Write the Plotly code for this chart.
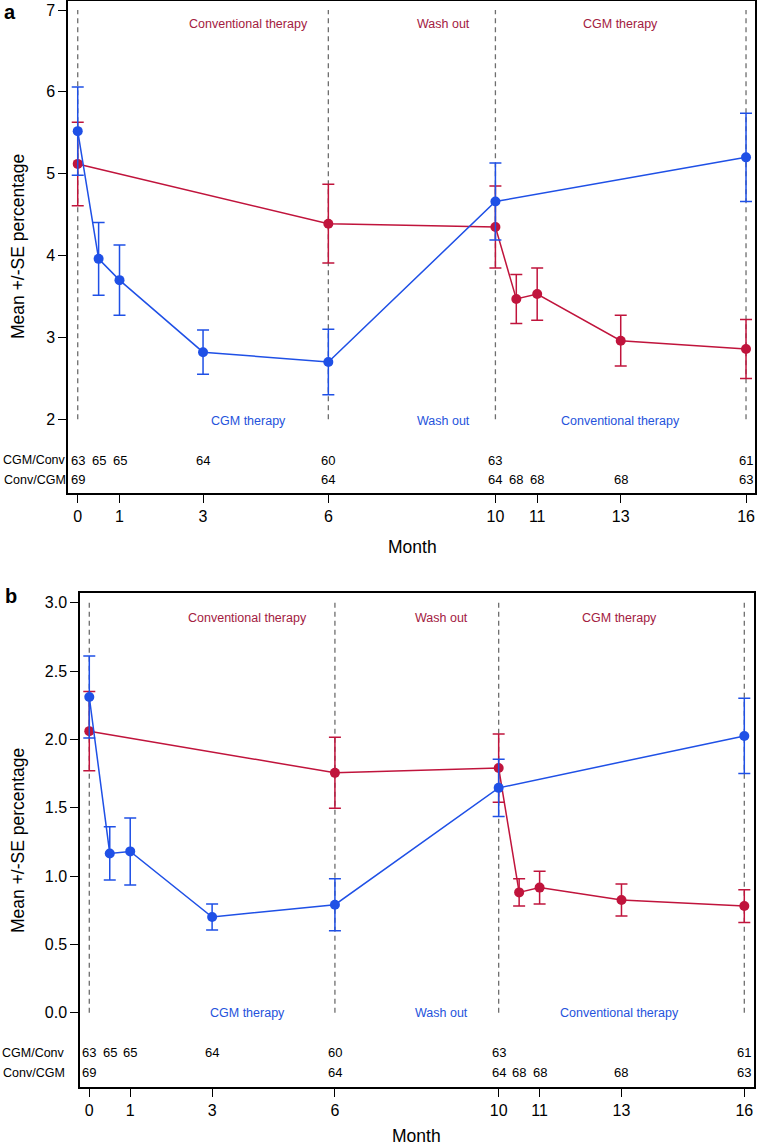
import plotly.graph_objects as go

# ---------------- data ----------------
months_cgm_conv = [0, 0.5, 1, 3, 6, 10, 16]
months_conv_cgm = [0, 6, 10, 10.5, 11, 13, 16]

# panel a
a_cgm_mean = [5.52, 3.96, 3.70, 2.82, 2.70, 4.66, 5.20]
a_cgm_se = [0.54, 0.445, 0.43, 0.27, 0.40, 0.47, 0.54]
a_conv_mean = [5.12, 4.39, 4.35, 3.47, 3.53, 2.96, 2.86]
a_conv_se = [0.51, 0.48, 0.50, 0.30, 0.32, 0.31, 0.36]

# panel b
b_cgm_mean = [2.31, 1.165, 1.18, 0.70, 0.79, 1.645, 2.025]
b_cgm_se = [0.30, 0.195, 0.245, 0.095, 0.19, 0.21, 0.275]
b_conv_mean = [2.06, 1.755, 1.79, 0.88, 0.915, 0.825, 0.78]
b_conv_se = [0.29, 0.26, 0.25, 0.10, 0.12, 0.117, 0.12]

# numbers of patients
n_cgm_conv = [63, 65, 65, 64, 60, 63, 61]
n_conv_cgm = [69, 64, 64, 68, 68, 68, 63]
group_labels = ["CGM/Conv", "Conv/CGM"]

phase_bounds = [0, 6, 10, 16]
phases_conv_cgm = ["Conventional therapy", "Wash out", "CGM therapy"]
phases_cgm_conv = ["CGM therapy", "Wash out", "Conventional therapy"]

x_ticks = [0, 1, 3, 6, 10, 11, 13, 16]
a_y_ticks = [2, 3, 4, 5, 6, 7]
b_y_ticks = [0.0, 0.5, 1.0, 1.5, 2.0, 2.5, 3.0]

# ---------------- style ----------------
BLUE = "#1f50e6"
RED = "#c0143c"
BLUE_TXT = "#2553dc"
RED_TXT = "#a3203f"
FONT = "Liberation Sans, Arial, sans-serif"
W, H = 757, 1145

fig = go.Figure()

panels = [
    dict(xa="x", ya="y", cgm=(a_cgm_mean, a_cgm_se), conv=(a_conv_mean, a_conv_se),
         vlo=2, vhi=7, ytop_txt=6.83, ybot_txt=1.98, row1=1.50, row2=1.26,
         txt_x=[4.10, 8.75, 13.0], lab_right=67),
    dict(xa="x2", ya="y2", cgm=(b_cgm_mean, b_cgm_se), conv=(b_conv_mean, b_conv_se),
         vlo=0, vhi=3, ytop_txt=2.89, ybot_txt=0.0, row1=-0.293, row2=-0.44,
         txt_x=[3.87, 8.61, 12.94], lab_right=66),
]

annotations = []
for p in panels:
    # dashed phase boundaries
    xs, ys = [], []
    for b in phase_bounds:
        xs += [b, b, None]
        ys += [p["vlo"], p["vhi"], None]
    fig.add_trace(go.Scatter(x=xs, y=ys, mode="lines", xaxis=p["xa"], yaxis=p["ya"],
                             line=dict(color="#6e6e6e", width=1.3, dash="5px,4px"),
                             showlegend=False, hoverinfo="skip"))
    # Conv/CGM (red)
    m, s = p["conv"]
    fig.add_trace(go.Scatter(x=months_conv_cgm, y=m, mode="lines+markers",
                             xaxis=p["xa"], yaxis=p["ya"],
                             line=dict(color=RED, width=1.5),
                             marker=dict(color=RED, size=10),
                             error_y=dict(type="data", array=s, color=RED, thickness=1.5, width=6),
                             showlegend=False))
    # CGM/Conv (blue)
    m, s = p["cgm"]
    fig.add_trace(go.Scatter(x=months_cgm_conv, y=m, mode="lines+markers",
                             xaxis=p["xa"], yaxis=p["ya"],
                             line=dict(color=BLUE, width=1.5),
                             marker=dict(color=BLUE, size=10),
                             error_y=dict(type="data", array=s, color=BLUE, thickness=1.5, width=6),
                             showlegend=False))
    # phase labels
    for tx, lab in zip(p["txt_x"], phases_conv_cgm):
        annotations.append(dict(x=tx, y=p["ytop_txt"], xref=p["xa"], yref=p["ya"], text=lab,
                                showarrow=False, font=dict(family=FONT, size=12.5, color=RED_TXT)))
    for tx, lab in zip(p["txt_x"], phases_cgm_conv):
        annotations.append(dict(x=tx, y=p["ybot_txt"], xref=p["xa"], yref=p["ya"], text=lab,
                                showarrow=False, font=dict(family=FONT, size=12.5, color=BLUE_TXT)))
    # numbers at risk
    for xv, n in zip(months_cgm_conv, n_cgm_conv):
        annotations.append(dict(x=xv, y=p["row1"], xref=p["xa"], yref=p["ya"], text=str(n),
                                showarrow=False, font=dict(family=FONT, size=13, color="black")))
    for xv, n in zip(months_conv_cgm, n_conv_cgm):
        annotations.append(dict(x=xv, y=p["row2"], xref=p["xa"], yref=p["ya"], text=str(n),
                                showarrow=False, font=dict(family=FONT, size=13, color="black")))
    for lab, yv in zip(group_labels, [p["row1"], p["row2"]]):
        annotations.append(dict(x=p["lab_right"] / W, y=yv, xref="paper", yref=p["ya"], text=lab,
                                xanchor="right", showarrow=False, borderpad=0,
                                font=dict(family=FONT, size=12.5, color="black")))

# axis titles and panel letters (paper coordinates)
def paper_annot(text, px, py, size, angle=0, bold=False):
    return dict(x=px / W, y=1 - py / H, xref="paper", yref="paper",
                text=f"<b>{text}</b>" if bold else text, showarrow=False, textangle=angle,
                xanchor="center", yanchor="middle",
                font=dict(family=FONT, size=size, color="black"))

annotations += [
    paper_annot("a", 10, 12, 20, bold=True),
    paper_annot("b", 11, 596, 20, bold=True),
    paper_annot("Mean +/-SE percentage", 18, 247, 17.5, angle=-90),
    paper_annot("Mean +/-SE percentage", 18, 841, 17.5, angle=-90),
    paper_annot("Month", 412, 547, 17.5),
    paper_annot("Month", 417, 1136, 17.5),
]

axis_common = dict(showline=True, linecolor="black", linewidth=1.5, mirror=True,
                   ticks="outside", ticklen=8, tickwidth=1.2, tickcolor="black",
                   showgrid=False, zeroline=False,
                   tickfont=dict(family=FONT, size=16, color="black"))

fig.update_layout(
    width=W, height=H,
    margin=dict(l=0, r=0, t=0, b=0),
    paper_bgcolor="white", plot_bgcolor="white",
    showlegend=False,
    annotations=annotations,
    xaxis=dict(axis_common, domain=[68 / W, 755 / W], range=[-0.233, 16.215],
               tickvals=x_ticks, anchor="y"),
    yaxis=dict(axis_common, domain=[1 - 493 / H, 1 - 1 / H], range=[1.10, 7.11],
               tickvals=a_y_ticks, anchor="x"),
    xaxis2=dict(axis_common, domain=[80 / W, 754 / W], range=[-0.227, 16.237],
                tickvals=x_ticks, anchor="y2"),
    yaxis2=dict(axis_common, domain=[1 - 1087 / H, 1 - 593 / H], range=[-0.544, 3.071],
                tickvals=b_y_ticks, tickformat=".1f", anchor="x2"),
)

fig.write_html(
    "out.html",
    config={"displayModeBar": False},
    post_script=(
        "document.documentElement.style.margin='0';"
        "document.documentElement.style.overflow='hidden';"
        "document.body.style.margin='0';"
        "document.body.style.overflow='hidden';"
    ),
)
